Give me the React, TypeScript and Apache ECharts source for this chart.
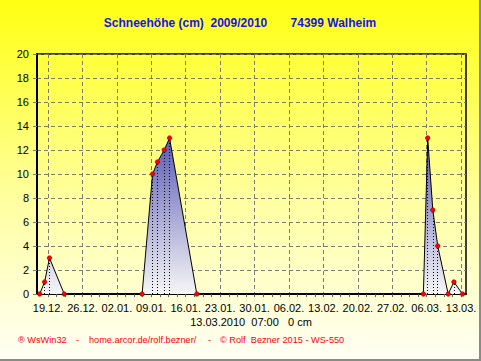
import React, { useEffect, useRef } from "react";
import * as echarts from "echarts";

const DAY = 86400000;

// weekly tick label dates (x axis)
const weekTicks = [
  "2009-12-19", "2009-12-26", "2010-01-02", "2010-01-09", "2010-01-16",
  "2010-01-23", "2010-01-30", "2010-02-06", "2010-02-13", "2010-02-20",
  "2010-02-27", "2010-03-06", "2010-03-13",
];

// measurement times and snow depth (cm)
const snowTimes = [
  "2009-12-17T07:00", "2009-12-18T07:00", "2009-12-19T07:00", "2009-12-22T07:00",
  "2010-01-07T03:00", "2010-01-09T06:00", "2010-01-10T06:00", "2010-01-11T15:00",
  "2010-01-12T17:00", "2010-01-18T06:00",
  "2010-03-05T08:00", "2010-03-06T05:00", "2010-03-07T06:00", "2010-03-08T06:00",
  "2010-03-10T09:00", "2010-03-11T13:00", "2010-03-13T07:00",
];
const snowValues = [0, 1, 3, 0, 0, 10, 11, 12, 13, 0, 0, 13, 7, 4, 0, 1, 0];

const axisStart = "2009-12-16T18:00";
const axisEnd = "2010-03-14T00:00";

const yMax = 20;
const yStep = 2;

const titleText = "Schneehöhe (cm)\u00a0\u00a02009/2010\u00a0\u00a0\u00a0\u00a0\u00a0\u00a0\u00a074399 Walheim";
const lastReading = "13.03.2010\u00a0\u00a007:00\u00a0\u00a0\u00a00 cm";
const footerParts = ["® WsWin32", "-", "home.arcor.de/rolf.bezner/", "-", "© Rolf\u00a0\u00a0Bezner 2015 - WS-550"];
const footerX = [18, 76, 89, 208, 220];

const ms = (s: string) => Date.parse(s.length <= 10 ? s + "T00:00Z" : s + "Z");
const pad = (n: number) => (n < 10 ? "0" + n : "" + n);
const fmt = (v: number) => {
  const d = new Date(v);
  return pad(d.getUTCDate()) + "." + pad(d.getUTCMonth() + 1) + ".";
};

export default function App() {
  const ref = useRef<HTMLDivElement>(null);
  useEffect(() => {
    if (!ref.current) return;
    const chart = echarts.init(ref.current, undefined, { renderer: "svg" });
    const tickVals = weekTicks.map(ms);
    const minorVals: number[] = [];
    for (let i = 0; i < tickVals.length; i++) {
      for (let k = 0; k < 4; k++) {
        const v = tickVals[i] + k * 1.75 * DAY;
        if (v <= ms(axisEnd)) minorVals.push(v);
      }
    }
    const data = snowTimes.map((t, i) => [ms(t), snowValues[i]]);
    const marks = data
      .filter((d) => d[1] > 0)
      .map((d) => [
        { coord: [d[0], 0] },
        { coord: [d[0], d[1]] },
      ]);
    const font = "Arial, 'Liberation Sans', sans-serif";
    chart.setOption({
      animation: false,
      backgroundColor: "transparent",
      grid: {
        left: 37, right: 15, top: 54, bottom: 67,
        show: true, borderColor: "#000", borderWidth: 1.5,
        backgroundColor: "transparent",
      },
      xAxis: [
        {
          type: "value",
          min: ms(axisStart),
          max: ms(axisEnd),
          axisLine: { show: true, lineStyle: { color: "#000", width: 2 } },
          axisTick: { show: false, customValues: tickVals },
          axisLabel: {
            customValues: tickVals,
            formatter: (v: number) => fmt(v),
            fontSize: 11, color: "#000", margin: 8, fontFamily: font,
          },
          splitLine: { show: true, lineStyle: { color: "#7a7a7a", type: [4, 3], width: 1 } },
        },
        {
          type: "value",
          min: ms(axisStart),
          max: ms(axisEnd),
          position: "bottom",
          offset: 0,
          axisLine: { show: false },
          axisLabel: { show: false },
          splitLine: { show: false },
          axisTick: { show: true, customValues: minorVals, length: 3, lineStyle: { color: "#606060" } },
        },
      ],
      yAxis: {
        type: "value",
        min: 0, max: yMax, interval: yStep,
        axisLine: { show: true, lineStyle: { color: "#000", width: 2 } },
        axisTick: { show: true, length: 4, lineStyle: { color: "#7a7a7a" } },
        axisLabel: { fontSize: 11, color: "#000", margin: 8, fontFamily: font },
        splitLine: { show: true, lineStyle: { color: "#7a7a7a", type: [4, 3], width: 1 } },
      },
      series: [
        {
          type: "line",
          data,
          showSymbol: true,
          showAllSymbol: true,
          symbol: "circle",
          symbolSize: 4.5,
          itemStyle: { color: "#ff0000", borderColor: "#8b0000", borderWidth: 0.6 },
          lineStyle: { color: "#000", width: 1 },
          areaStyle: {
            opacity: 1,
            color: new echarts.graphic.LinearGradient(0, 0, 0, 1, [
              { offset: 0, color: "#5a5ab4" },
              { offset: 1, color: "#f6f6f6" },
            ]),
          },
          markLine: {
            silent: true,
            symbol: ["none", "none"],
            label: { show: false },
            lineStyle: { color: "#000", type: [1, 2], width: 1 },
            data: marks,
          },
          z: 3,
        },
      ],
      graphic: [
        {
          type: "text", x: 240, y: 23,
          style: { text: titleText, font: "bold 12px " + font, fill: "#1414f0", align: "center", verticalAlign: "middle" },
        },
        {
          type: "text", x: 251, y: 322,
          style: { text: lastReading, font: "11px " + font, fill: "#000", align: "center", verticalAlign: "middle" },
        },
        ...footerParts.map((t, i) => ({
          type: "text", x: footerX[i], y: 340,
          style: { text: t, font: "9.2px " + font, fill: "#ff0000", align: "left", verticalAlign: "middle" },
        })),
        { type: "rect", shape: { x: 479, y: 0, width: 2, height: 361 }, style: { fill: "#8a8a8a" } },
        { type: "rect", shape: { x: 0, y: 359, width: 481, height: 2 }, style: { fill: "#8a8a8a" } },
      ],
    });
    return () => chart.dispose();
  }, []);
  return (
    <div
      ref={ref}
      style={{
        position: "fixed", left: 0, top: 0, width: 481, height: 361,
        background: "linear-gradient(#ffff12, #ffffa0 55%, #fffff6)",
      }}
    />
  );
}
